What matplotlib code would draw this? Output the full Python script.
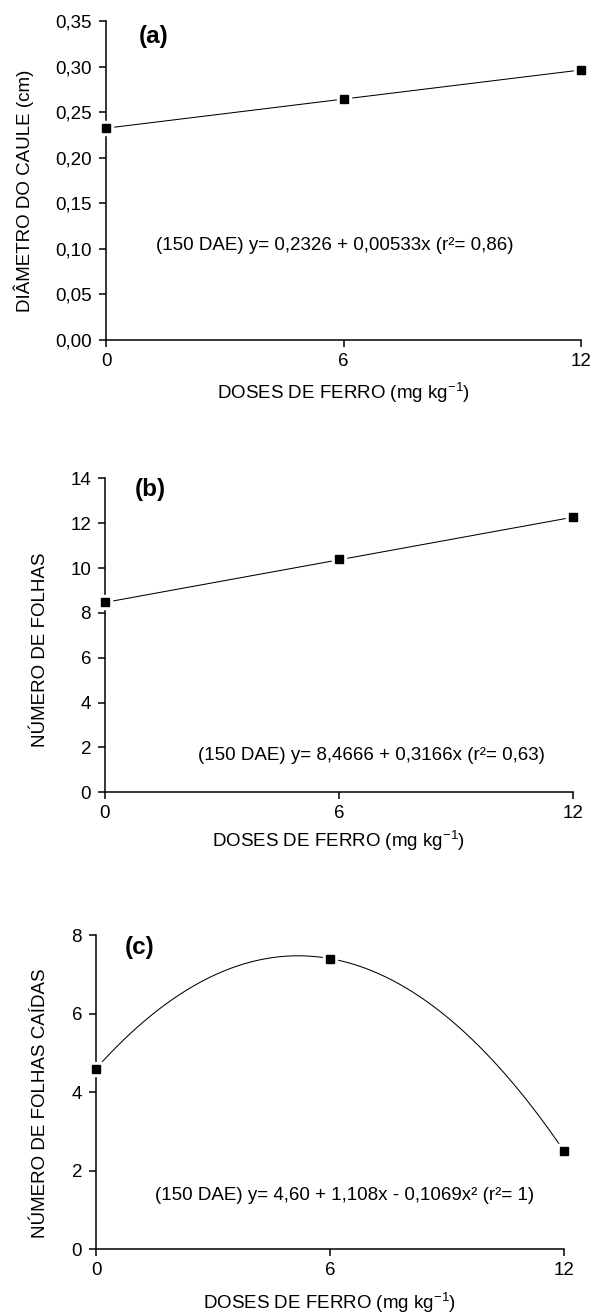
import numpy as np
import matplotlib
matplotlib.use("Agg")
import matplotlib.pyplot as plt
from matplotlib.ticker import FuncFormatter

plt.rcParams['font.family'] = ['Liberation Sans', 'DejaVu Sans']
plt.rcParams['mathtext.fontset'] = 'custom'
plt.rcParams['mathtext.rm'] = 'Liberation Sans'

# doses de ferro (mg kg-1)
doses = [0, 6, 12]
x_ticks = [0, 6, 12]

# (a) diametro do caule
diametro = [0.233, 0.265, 0.297]
coef_a = [0.2326, 0.00533, 0.0]
yticks_a = [0.00, 0.05, 0.10, 0.15, 0.20, 0.25, 0.30, 0.35]
eq_a = "(150 DAE) y= 0,2326 + 0,00533x (r²= 0,86)"

# (b) numero de folhas
folhas = [8.47, 10.39, 12.27]
coef_b = [8.4666, 0.3166, 0.0]
yticks_b = [0, 2, 4, 6, 8, 10, 12, 14]
eq_b = "(150 DAE) y= 8,4666 + 0,3166x (r²= 0,63)"

# (c) numero de folhas caidas
caidas = [4.60, 7.40, 2.50]
coef_c = [4.60, 1.108, -0.1069]
yticks_c = [0, 2, 4, 6, 8]
eq_c = "(150 DAE) y= 4,60 + 1,108x - 0,1069x² (r²= 1)"

W, H = 592, 1315
fig = plt.figure(figsize=(W / 100, H / 100), dpi=100)


def px_axes(left, right, top, bottom):
    return fig.add_axes([left / W, 1 - bottom / H, (right - left) / W, (bottom - top) / H])


def comma(v, pos, nd):
    return f"{v:.{nd}f}".replace(".", ",")


def painel(ax, y, coef, yticks, nd, ylabel, eq, eq_pos, letra, letra_pos, ylab_pos, xlab_y):
    xs = np.linspace(0, 12, 200)
    ys = coef[0] + coef[1] * xs + coef[2] * xs ** 2
    ax.plot(xs, ys, color='black', lw=0.75, clip_on=False, zorder=2)
    # white halo so the line stops short of each marker
    ax.plot(doses, y, ls='none', marker='s', ms=10, color='white', clip_on=False, zorder=3)
    ax.plot(doses, y, ls='none', marker='s', ms=5.5, color='black', clip_on=False, zorder=4)

    ax.set_xlim(0, 12)
    ax.set_ylim(yticks[0], yticks[-1])
    ax.set_xticks(x_ticks)
    ax.set_yticks(yticks)
    ax.yaxis.set_major_formatter(FuncFormatter(lambda v, p: comma(v, p, nd)))
    for s in ['top', 'right']:
        ax.spines[s].set_visible(False)
    for s in ['left', 'bottom']:
        ax.spines[s].set_linewidth(1.1)
    ax.tick_params(length=5, width=1.1, labelsize=13.5, color='black')
    ax.tick_params(axis='y', pad=5)
    ax.tick_params(axis='x', pad=4)

    ax.set_ylabel(ylabel, fontsize=13.5)
    ax.yaxis.set_label_coords(ylab_pos[0], ylab_pos[1])
    ax.set_xlabel(r"DOSES DE FERRO (mg kg$^{\mathregular{-1}}$)", fontsize=13.5)
    ax.xaxis.set_label_coords(0.5, xlab_y)

    ax.text(eq_pos[0], eq_pos[1], eq, fontsize=13.5, ha='center', va='center')
    ax.text(letra_pos[0], letra_pos[1], letra, fontsize=17.5, fontweight='bold',
            ha='center', va='center')


ax_a = px_axes(106, 581, 21.3, 340)
painel(ax_a, diametro, coef_a, yticks_a, 2, "DIÂMETRO DO CAULE (cm)", eq_a,
       (5.79, 0.104), "(a)", (1.21, 0.333), (-0.152, 0.4675), -0.1255)

ax_b = px_axes(105, 573, 478.3, 792.3)
painel(ax_b, folhas, coef_b, yticks_b, 0, "NÚMERO DE FOLHAS", eq_b,
       (6.82, 1.66), "(b)", (1.15, 13.48), (-0.12, 0.453), -0.1137)

ax_c = px_axes(96, 564, 935, 1249.3)
painel(ax_c, caidas, coef_c, yticks_c, 0, "NÚMERO DE FOLHAS CAÍDAS", eq_c,
       (6.37, 1.38), "(c)", (1.13, 7.67), (-0.101, 0.465), -0.129)

fig.savefig("out.png", dpi=100)
